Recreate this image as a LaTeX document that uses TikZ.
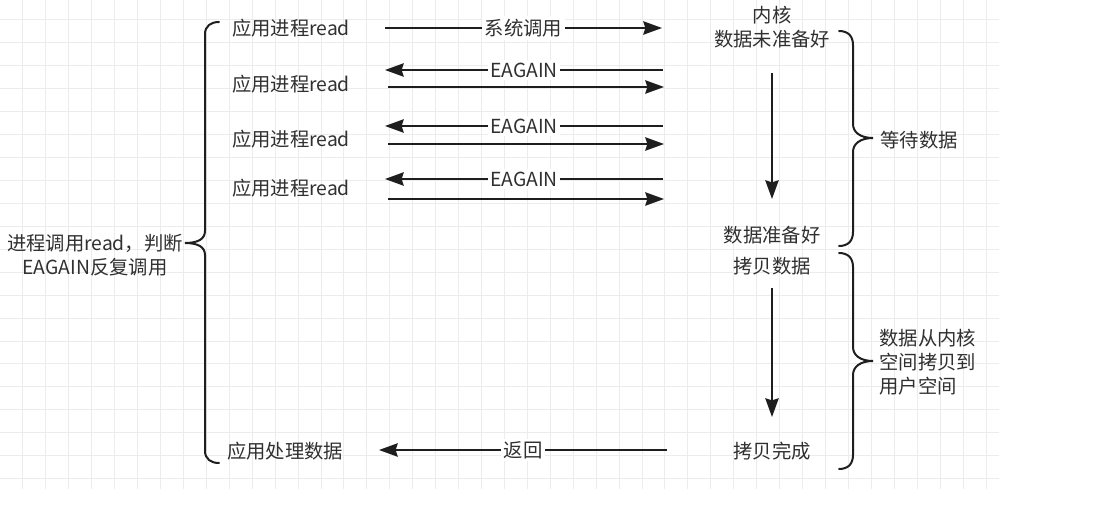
\documentclass[tikz,border=0pt]{standalone}
\usepackage{fontspec}
\setmainfont{Noto Sans CJK SC}
\usetikzlibrary{arrows.meta, positioning}
\definecolor{gridC}{RGB}{236,236,236}
\definecolor{lineC}{RGB}{ 30, 30, 30}
\definecolor{textC}{RGB}{ 48, 48, 48}

\begin{document}
\begin{tikzpicture}[x=0.75pt, y=-0.75pt,
  txt/.style={font=\fontsize{14.5}{18}\selectfont, text=textC, inner sep=1pt},
  elabel/.style={txt, fill=white, inner sep=2pt},
  conn/.style={-{Stealth[length=14pt, width=10pt, inset=1.5pt]}, lineC, line width=1.5pt},
  brace/.style={lineC, line width=1.5pt, line cap=round}]

\useasboundingbox (0,0) rectangle (1102,506);
\fill[white] (0,0) rectangle (1102,506);

% ============================================================
% Background grid (draw.io page)
% ============================================================
\def\cell{22.93}
\foreach \k in {1,...,43}
  \draw[gridC, line width=0.75pt] ({\cell*\k}, 0) -- ({\cell*\k}, 489);
\foreach \k in {0,...,20}
  \draw[gridC, line width=0.75pt] (0, {20+\cell*\k}) -- (999, {20+\cell*\k});

% ============================================================
% Application side
% ============================================================
\node[txt] (app1) at (291, 28) {应用进程read};
\node[txt] (app2) at (291, 84) {应用进程read};
\node[txt] (app3) at (291,139) {应用进程read};
\node[txt] (app4) at (291,188) {应用进程read};
\node[txt] (appdone) at (285,451) {应用处理数据};

\node[txt, align=center] (loop) at (95,255) {进程调用read，判断\\EAGAIN反复调用};

% Left brace
\draw[brace] (219,22) .. controls (211,22) and (205,26) .. (205,34)
  -- (205,231) .. controls (205,239) and (198,243) .. (185,243)
  .. controls (198,243) and (205,247) .. (205,255)
  -- (205,451) .. controls (205,459) and (211,463) .. (219,463);

% ============================================================
% Kernel side
% ============================================================
\node[txt, align=center] (kstart) at (772,27.5) {内核\\数据未准备好};
\node[txt] (kready) at (772,235) {数据准备好};
\node[txt] (kcopy)  at (772,266) {拷贝数据};
\node[txt] (kdone)  at (772,451) {拷贝完成};

\coordinate (kw1) at (772, 73);
\coordinate (kw2) at (772,199);
\coordinate (kc1) at (772,288);
\coordinate (kc2) at (772,417);
\draw[conn] (kw1) -- (kw2);
\draw[conn] (kc1) -- (kc2);

% Right braces
\draw[brace] (839,31) .. controls (848,31) and (853,36) .. (853,45)
  -- (853,124) .. controls (853,132) and (860,138) .. (873,138)
  .. controls (860,138) and (853,144) .. (853,152)
  -- (853,232) .. controls (853,241) and (848,246) .. (839,246);
\draw[brace] (839,253) .. controls (848,253) and (853,258) .. (853,267)
  -- (853,347) .. controls (853,355) and (860,361) .. (873,361)
  .. controls (860,361) and (853,367) .. (853,375)
  -- (853,455) .. controls (853,464) and (848,469) .. (839,469);

\node[txt] (wait) at (919,140) {等待数据};
\node[txt, align=left, anchor=west] (copyto) at (878,362) {数据从内核\\空间拷贝到\\用户空间};

% ============================================================
% Calls between the two sides
% ============================================================
\coordinate (u1) at (385,28);
\coordinate (k1) at (662,28);
\draw[conn] (u1) -- node[elabel] {系统调用} (k1);

\foreach \i/\yb/\yf in {2/70/87, 3/126/144, 4/179/199}{
  \coordinate (kb\i) at (663,\yb);
  \coordinate (ub\i) at (385,\yb);
  \coordinate (uf\i) at (388,\yf);
  \coordinate (kf\i) at (664,\yf);
  \draw[conn] (kb\i) -- node[elabel] {EAGAIN} (ub\i);
  \draw[conn] (uf\i) -- (kf\i);
}

\coordinate (kret) at (667,450);
\coordinate (uret) at (379,450);
\draw[conn] (kret) -- node[elabel] {返回} (uret);

\end{tikzpicture}
\end{document}
